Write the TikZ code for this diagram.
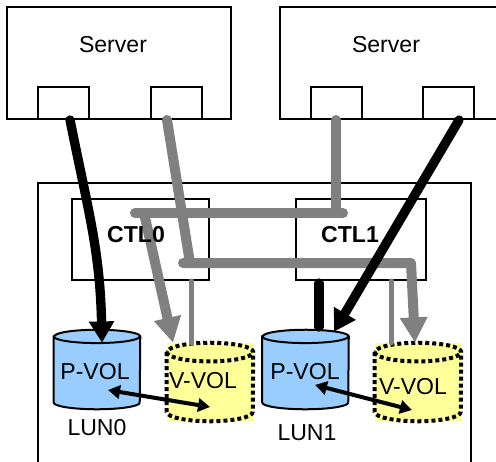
\documentclass[tikz,border=0pt]{standalone}
\usepackage{fontspec}
\setmainfont{Liberation Sans}
\usetikzlibrary{arrows.meta, positioning}
\definecolor{pvolblue}{RGB}{153,204,255}
\definecolor{vvolyellow}{RGB}{255,255,153}
\definecolor{linkgray}{RGB}{128,128,128}

% cylinder outline drawn on a (rectangle) node: node, x radius, y radius
\newcommand{\cylpath}[3]{%
  ([yshift=-#3]#1.north west) -- ([yshift=#3]#1.south west)
  arc[start angle=180, end angle=360, x radius=#2, y radius=#3]
  -- ([yshift=-#3]#1.north east)
  arc[start angle=0, end angle=180, x radius=#2, y radius=#3] -- cycle
  ([yshift=-#3]#1.north west)
  arc[start angle=180, end angle=360, x radius=#2, y radius=#3]}

\tikzset{
  frame/.style={draw, line width=1.5pt, fill=white, inner sep=0pt},
  port/.style={frame, minimum width=38.25pt, minimum height=24pt},
  volbox/.style={inner sep=0pt, minimum width=64.5pt},
  lbl/.style={inner sep=0pt},
  graylink/.style={draw=linkgray, line width=7.5pt, line cap=round, line join=round},
  thinlink/.style={draw=linkgray, line width=3.75pt, line cap=round},
  blacklink/.style={draw=black, line width=7pt, line cap=round},
  grayhead/.style={-{Triangle[length=19pt, width=19.5pt]}},
  blackhead/.style={-{Triangle[length=16pt, width=18pt]}},
  copylink/.style={draw=black, line width=3pt,
    {Triangle[length=9pt, width=10pt]}-{Triangle[length=9pt, width=10pt]}},
}

\begin{document}
\begin{tikzpicture}[x=0.75pt, y=-0.75pt, font=\fontsize{17.3}{20}\selectfont]
  \useasboundingbox (0,0) rectangle (496,461);

  % storage frame, open at the bottom
  \node[frame, line width=1pt, minimum width=324.75pt, minimum height=237.75pt]
    (stor) at (254.5,341.5) {};

  % servers and their ports
  \node[frame, minimum width=168pt, minimum height=84pt] (srv0) at (119,63) {};
  \node[frame, minimum width=168pt, minimum height=84pt] (srv1) at (392,63) {};
  \node[lbl] (srv0t) at (113,45) {Server};
  \node[lbl] (srv1t) at (386,45) {Server};
  \node[port] (p0) at (63.5,103) {};
  \node[port] (p1) at (176,103) {};
  \node[port] (p2) at (336,103) {};
  \node[port] (p3) at (448.5,103) {};

  % controllers
  \node[frame, minimum width=102.75pt, minimum height=60.75pt] (ctl0) at (140.5,239.5) {};
  \node[frame, minimum width=97.5pt, minimum height=60.75pt] (ctl1) at (361,239.5) {};

  % volumes
  \node[volbox, minimum height=59.25pt] (pv0) at (97,369.5) {};
  \node[volbox, minimum height=59.25pt] (pv1) at (305.5,369.5) {};
  \node[volbox, minimum height=58.5pt, fill=vvolyellow] (vv0) at (210,382) {};
  \node[volbox, minimum height=58.5pt, fill=vvolyellow] (vv1) at (418,382) {};
  \draw[line width=1.5pt, fill=pvolblue] \cylpath{pv0}{32.25pt}{5pt};
  \draw[line width=1.5pt, fill=pvolblue] \cylpath{pv1}{32.25pt}{5pt};
  \draw[line width=3pt, dash pattern=on 3pt off 2.25pt] \cylpath{vv0}{32.25pt}{7pt};
  \draw[line width=3pt, dash pattern=on 3pt off 2.25pt] \cylpath{vv1}{32.25pt}{7pt};
  \node[lbl] (pv0t) at (95,372) {P-VOL};
  \node[lbl] (pv1t) at (305,372) {P-VOL};
  \node[lbl] (vv0t) at (203,381) {V-VOL};
  \node[lbl] (vv1t) at (413,387) {V-VOL};
  \node[lbl] (lun0) at (97,428) {LUN0};
  \node[lbl] (lun1) at (307,433) {LUN1};

  % route points of the gray paths
  \coordinate (hiR) at (343,213);
  \coordinate (hiL) at (135,213);
  \coordinate (hiDrop) at (144,213);
  \coordinate (loIn) at (190,263);
  \coordinate (loL) at (183,263);
  \coordinate (loR) at (411,263);
  \coordinate (tap0) at (191,343);
  \coordinate (tap1) at (391,343);
  \coordinate (feedTop) at (319,283);
  \coordinate (feedBot) at (319,327);

  % thin gray taps
  \draw[thinlink] (ctl0.south -| tap0) -- (tap0);
  \draw[thinlink] (ctl1.south -| tap1) -- (tap1);

  % gray paths
  \draw[graylink] ([xshift=-6.75pt]p1.south) -- (loIn);
  \draw[graylink, grayhead] (loL) -- (loR) -- ([xshift=-2.25pt]vv1.north);
  \draw[graylink] (p2.south) -- (p2.south |- hiR);
  \draw[graylink] (hiR) -- (hiL);
  \draw[graylink, grayhead] (hiDrop) -- ([xshift=-27.75pt]vv0.north);

  % controller names sit over the gray paths
  \node[lbl, font=\fontsize{17.3}{20}\selectfont\bfseries] (ctl0t) at (136,235) {CTL0};
  \node[lbl, font=\fontsize{17.3}{20}\selectfont\bfseries] (ctl1t) at (350,235) {CTL1};

  % black paths
  \draw[blacklink, blackhead] ([xshift=4.9pt]p0.south)
    .. controls (88,210) and (100,250) .. ([shift={(3.75pt,-9.75pt)}]pv0.north);
  \draw[blacklink, blackhead] ([xshift=7.9pt]p3.south) -- ([shift={(21.4pt,-1.5pt)}]pv1.north);
  \draw[blacklink] (feedTop) -- (feedBot);

  % copy pairs
  \draw[copylink] ([shift={(8.25pt,-15.4pt)}]pv0.center) -- ([yshift=-18.75pt]vv0.center);
  \draw[copylink] ([shift={(7.1pt,-11.6pt)}]pv1.center) -- ([shift={(-4.5pt,-21pt)}]vv1.center);
\end{tikzpicture}
\end{document}
